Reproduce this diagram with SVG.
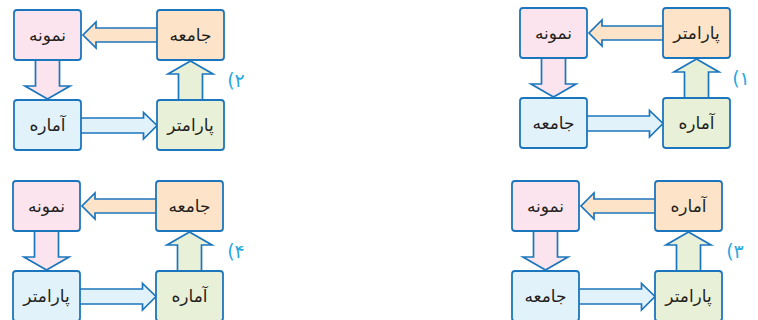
<svg xmlns="http://www.w3.org/2000/svg" width="758" height="320" viewBox="0 0 758 320">
<style>
.box{stroke:#1c76bd;stroke-width:1.8}
.pink{fill:#fbe4ee}
.orange{fill:#fde4c9}
.blue{fill:#e1f2fb}
.green{fill:#e9f0d8}
.arr{stroke:#1c76bd;stroke-width:1.7;stroke-linejoin:miter}
.t{font-family:"DejaVu Sans",sans-serif;font-size:17px;fill:#231f20;text-anchor:middle}
.n{font-family:"DejaVu Sans",sans-serif;font-size:19px;fill:#29a9e0;text-anchor:middle;direction:rtl;unicode-bidi:bidi-override}
</style>
<defs>
<polygon id="aL" points="158,28 96,28 96,22 83,35 96,48 96,42 158,42"/>
<polygon id="aD" points="35.5,59 35.5,86 25,86 47.5,99 70,86 59.5,86 59.5,59"/>
<polygon id="aR" points="80,118 143.5,118 143.5,112.5 157,125.5 143.5,139 143.5,133 80,133"/>
<polygon id="aU" points="178.5,101 178.5,74 168,74 190.5,61 213,74 202.5,74 202.5,101"/>
</defs>

<g id="diagram1" transform="translate(506,-2)">
 <g id="d1-connectors">
  <use href="#aL" class="arr orange"/>
  <use href="#aD" class="arr pink"/>
  <use href="#aR" class="arr blue"/>
  <use href="#aU" class="arr green"/>
 </g>
 <g id="d1-tl"><rect class="box pink" x="14" y="10" width="67" height="50" rx="3"/><text class="t" x="47.5" y="41">نمونه</text></g>
 <g id="d1-tr"><rect class="box orange" x="157" y="10" width="67" height="50" rx="3"/><text class="t" x="190.5" y="41">پارامتر</text></g>
 <g id="d1-bl"><rect class="box blue" x="14" y="100" width="67" height="50" rx="3"/><text class="t" x="47.5" y="131">جامعه</text></g>
 <g id="d1-br"><rect class="box green" x="157" y="100" width="67" height="50" rx="3"/><text class="t" x="190.5" y="131">آماره</text></g>
 <text class="n" x="235" y="87">۱)</text>
</g>

<g id="diagram2">
 <g id="d2-connectors">
  <use href="#aL" class="arr orange"/>
  <use href="#aD" class="arr pink"/>
  <use href="#aR" class="arr blue"/>
  <use href="#aU" class="arr green"/>
 </g>
 <g id="d2-tl"><rect class="box pink" x="14" y="10" width="67" height="50" rx="3"/><text class="t" x="47.5" y="41">نمونه</text></g>
 <g id="d2-tr"><rect class="box orange" x="157" y="10" width="67" height="50" rx="3"/><text class="t" x="190.5" y="41">جامعه</text></g>
 <g id="d2-bl"><rect class="box blue" x="14" y="100" width="67" height="50" rx="3"/><text class="t" x="47.5" y="131">آماره</text></g>
 <g id="d2-br"><rect class="box green" x="157" y="100" width="67" height="50" rx="3"/><text class="t" x="190.5" y="131">پارامتر</text></g>
 <text class="n" x="236" y="87">۲)</text>
</g>

<g id="diagram3" transform="translate(498,171)">
 <g id="d3-connectors">
  <use href="#aL" class="arr orange"/>
  <use href="#aD" class="arr pink"/>
  <use href="#aR" class="arr blue"/>
  <use href="#aU" class="arr green"/>
 </g>
 <g id="d3-tl"><rect class="box pink" x="14" y="10" width="67" height="50" rx="3"/><text class="t" x="47.5" y="41">نمونه</text></g>
 <g id="d3-tr"><rect class="box orange" x="157" y="10" width="67" height="50" rx="3"/><text class="t" x="190.5" y="41">آماره</text></g>
 <g id="d3-bl"><rect class="box blue" x="14" y="100" width="67" height="50" rx="3"/><text class="t" x="47.5" y="131">جامعه</text></g>
 <g id="d3-br"><rect class="box green" x="157" y="100" width="67" height="50" rx="3"/><text class="t" x="190.5" y="131">پارامتر</text></g>
 <text class="n" x="237" y="87">۳)</text>
</g>

<g id="diagram4" transform="translate(-1,171)">
 <g id="d4-connectors">
  <use href="#aL" class="arr orange"/>
  <use href="#aD" class="arr pink"/>
  <use href="#aR" class="arr blue"/>
  <use href="#aU" class="arr green"/>
 </g>
 <g id="d4-tl"><rect class="box pink" x="14" y="10" width="67" height="50" rx="3"/><text class="t" x="47.5" y="41">نمونه</text></g>
 <g id="d4-tr"><rect class="box orange" x="157" y="10" width="67" height="50" rx="3"/><text class="t" x="190.5" y="41">جامعه</text></g>
 <g id="d4-bl"><rect class="box blue" x="14" y="100" width="67" height="50" rx="3"/><text class="t" x="47.5" y="131">پارامتر</text></g>
 <g id="d4-br"><rect class="box green" x="157" y="100" width="67" height="50" rx="3"/><text class="t" x="190.5" y="131">آماره</text></g>
 <text class="n" x="237" y="87">۴)</text>
</g>
</svg>
